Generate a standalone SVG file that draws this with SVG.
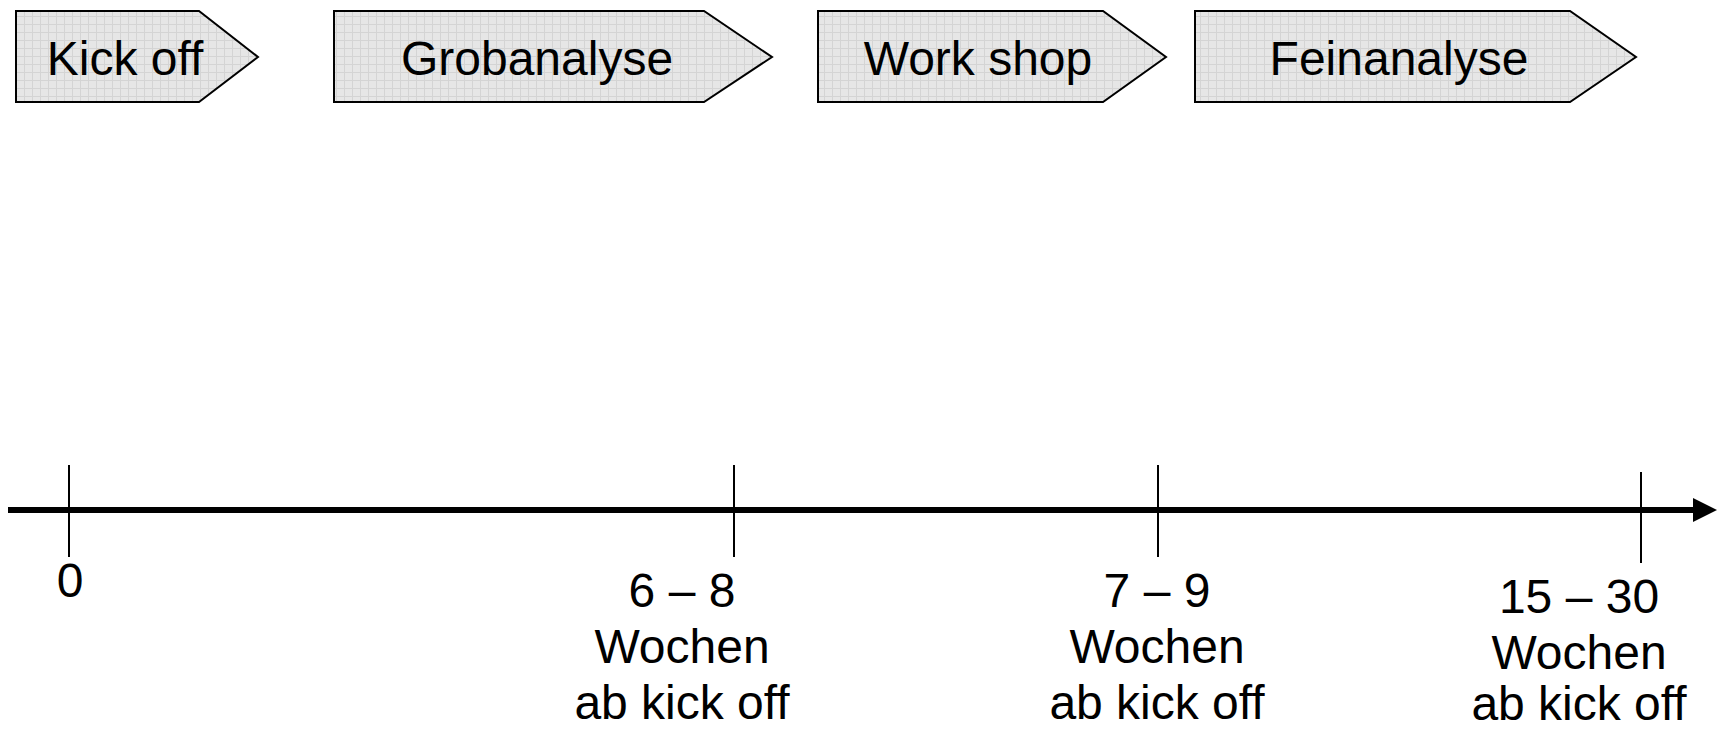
<svg xmlns="http://www.w3.org/2000/svg" width="1717" height="731" viewBox="0 0 1717 731">
<style>
.box{stroke:#000;stroke-width:2;fill:url(#grid)}
.t{font-family:"Liberation Sans",Arial,sans-serif;font-size:48px;fill:#000;text-anchor:middle}
.tick{stroke:#000;stroke-width:2}
</style>
<defs>
<pattern id="grid" width="8" height="8" patternUnits="userSpaceOnUse">
<rect width="8" height="8" fill="#e6e6e6"/>
<path d="M0 0.5H8M0.5 0V8" stroke="#d4d4d4" stroke-width="1" fill="none"/>
</pattern>
<marker id="ah" markerWidth="24" markerHeight="24" refX="0" refY="12" orient="auto" markerUnits="userSpaceOnUse">
<path d="M0 0L24 12L0 24Z" fill="#000"/>
</marker>
</defs>
<g id="kickoff">
<path class="box" d="M16 11H199L258 57L199 102H16Z"/>
<text class="t" x="125" y="75">Kick off</text>
</g>
<g id="grobanalyse">
<path class="box" d="M334 11H704L772 57L704 102H334Z"/>
<text class="t" x="537" y="75">Grobanalyse</text>
</g>
<g id="workshop">
<path class="box" d="M818 11H1103L1166 57L1103 102H818Z"/>
<text class="t" x="978" y="75">Work shop</text>
</g>
<g id="feinanalyse">
<path class="box" d="M1195 11H1570L1636 57L1570 102H1195Z"/>
<text class="t" x="1399" y="75">Feinanalyse</text>
</g>
<g id="connectors">
<line x1="8" y1="510" x2="1693" y2="510" stroke="#000" stroke-width="6" marker-end="url(#ah)"/>
<line class="tick" x1="69" y1="465" x2="69" y2="557"/>
<line class="tick" x1="734" y1="465" x2="734" y2="557"/>
<line class="tick" x1="1158" y1="465" x2="1158" y2="557"/>
<line class="tick" x1="1641" y1="472" x2="1641" y2="563"/>
</g>
<g id="label0">
<text class="t" x="70" y="597">0</text>
</g>
<g id="label68">
<text class="t" x="682" y="607">6 – 8</text>
<text class="t" x="682" y="663">Wochen</text>
<text class="t" x="682" y="719">ab kick off</text>
</g>
<g id="label79">
<text class="t" x="1157" y="607">7 – 9</text>
<text class="t" x="1157" y="663">Wochen</text>
<text class="t" x="1157" y="719">ab kick off</text>
</g>
<g id="label1530">
<text class="t" x="1579" y="613">15 – 30</text>
<text class="t" x="1579" y="669">Wochen</text>
<text class="t" x="1579" y="720">ab kick off</text>
</g>
</svg>
